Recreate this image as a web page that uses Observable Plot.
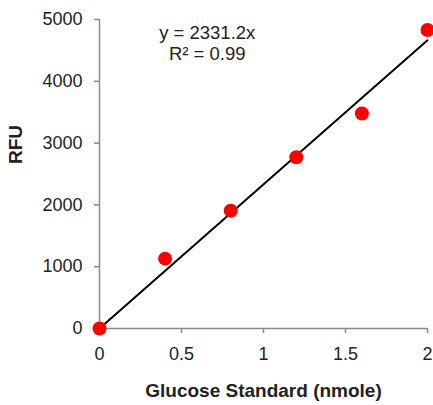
<!DOCTYPE html>
<html>
<head>
<meta charset="utf-8">
<script src="https://cdn.jsdelivr.net/npm/d3@7"></script>
<script src="https://cdn.jsdelivr.net/npm/@observablehq/plot@0.6"></script>
<style>
  html, body { margin: 0; padding: 0; background: #fff; }
  #chart svg { display: block; font-family: "Liberation Sans", Arial, sans-serif; }
</style>
</head>
<body>
<div id="chart"></div>
<script>
const glucose = [0, 0.4, 0.8, 1.2, 1.6, 2.0];
const rfu = [0, 1130, 1905, 2770, 3480, 4830];
const slope = 2331.2;
const fitX = [0, 2];
const xTicks = [0, 0.5, 1, 1.5, 2];
const xTickLabels = ["0", "0.5", "1", "1.5", "2"];
const yTicks = [0, 1000, 2000, 3000, 4000, 5000];
const equationText = "y = 2331.2x\nR² = 0.99";
const equationPos = {x: 0.657, y: 4620};
const xLabel = "Glucose Standard (nmole)";
const yLabel = "RFU";

const points = glucose.map((g, i) => ({x: g, y: rfu[i]}));
const fit = fitX.map(x => ({x, y: slope * x}));

const chart = Plot.plot({
  width: 433,
  height: 405,
  marginLeft: 99,
  marginRight: 6,
  marginTop: 19,
  marginBottom: 77,
  style: {fontSize: "18px", color: "#222", fontFamily: "'Liberation Sans', Arial, sans-serif", overflow: "visible"},
  x: {domain: [0, 2]},
  y: {domain: [0, 5000]},
  marks: [
    Plot.ruleY([0], {stroke: "#8a8a8a", strokeWidth: 1.5}),
    Plot.ruleX([0], {stroke: "#8a8a8a", strokeWidth: 1.5}),
    Plot.axisX({ticks: xTicks, tickFormat: (d, i) => xTickLabels[i], tickSize: 5, tickPadding: 14, stroke: "#8a8a8a", strokeWidth: 1.5, label: null, fill: "#222"}),
    Plot.axisY({ticks: yTicks, tickFormat: d => String(d), tickSize: 5, tickPadding: 12, stroke: "#8a8a8a", strokeWidth: 1.5, label: null, fill: "#222"}),
    Plot.line(fit, {x: "x", y: "y", stroke: "#000", strokeWidth: 2}),
    Plot.dot(points, {x: "x", y: "y", r: 7, fill: "#ff0000", stroke: "none"}),
    Plot.text([equationText], {x: () => equationPos.x, y: () => equationPos.y, text: d => d, textAnchor: "middle", lineHeight: 1.15, fontSize: 18.5, fill: "#222"}),
    Plot.text([xLabel], {frameAnchor: "bottom", dy: 68, text: d => d, fontWeight: "bold", fontSize: 19, fill: "#222"}),
    Plot.text([yLabel], {frameAnchor: "left", dx: -84, dy: -10, rotate: -90, text: d => d, fontWeight: "bold", fontSize: 19, fill: "#222"})
  ]
});
document.getElementById("chart").append(chart);
</script>
</body>
</html>
